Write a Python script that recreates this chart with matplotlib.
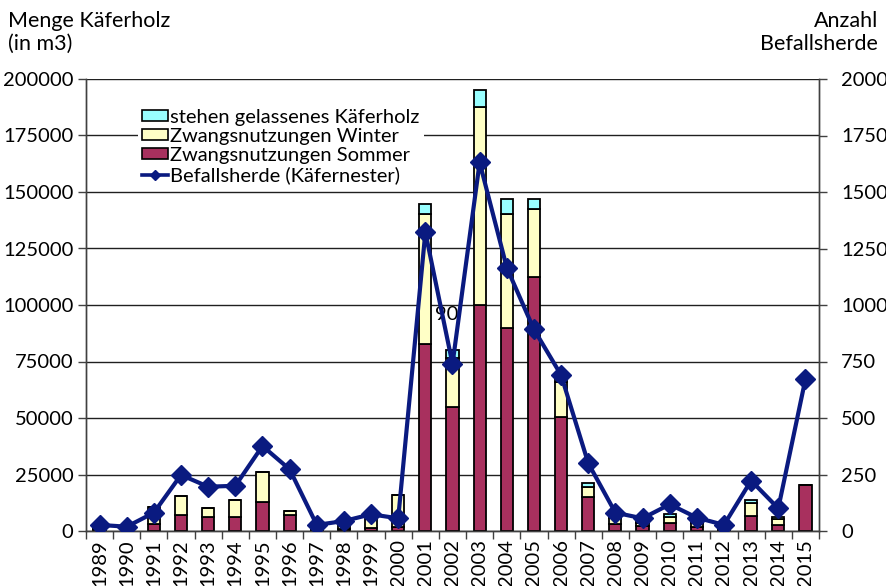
import matplotlib
matplotlib.use("Agg")
import matplotlib.pyplot as plt
from matplotlib.patches import Patch
from matplotlib.lines import Line2D
import numpy as np

plt.rcParams['font.family'] = ['Lato', 'DejaVu Sans']

years = [str(y) for y in range(1989, 2016)]
sommer = [1000, 0, 3000, 7000, 6300, 6300, 13000, 7000, 500, 1000, 1500, 1900,
          82700, 55000, 100000, 90000, 112500, 50600, 14900, 2900, 2200, 3700,
          1600, 500, 6600, 2600, 20500]
winter = [500, 0, 7700, 8600, 3700, 7400, 13200, 2000, 500, 2000, 4000, 14100,
          57600, 21400, 87500, 50100, 30100, 15400, 4700, 2700, 1500, 2600,
          1800, 500, 5600, 2600, 0]
stehen = [0, 0, 0, 0, 0, 0, 0, 0, 0, 0, 0, 0,
          4400, 3600, 7600, 6700, 4200, 3000, 1800, 1200, 900, 1100,
          700, 0, 1400, 1000, 0]
herde = [27, 19, 81, 248, 196, 200, 376, 273, 27, 44, 74, 56, 1322, 739, 1631,
         1165, 892, 690, 300, 81, 56, 118, 59, 27, 223, 100, 672]

c_sommer = '#A8305E'
c_winter = '#FFFFC6'
c_stehen = '#99FFFF'
c_line = '#0A1A80'

W, H = 887, 586
fig = plt.figure(figsize=(W / 100, H / 100), dpi=100)
ax = fig.add_axes([86 / W, 1 - 531 / H, (819 - 86) / W, (531 - 79) / H])
ax2 = ax.twinx()

x = np.arange(len(years))
bw = 0.45
s = np.array(sommer)
w = np.array(winter)
st = np.array(stehen)
ax.bar(x, s, bw, color=c_sommer, edgecolor='black', linewidth=1.3, zorder=3)
ax.bar(x, w, bw, bottom=s, color=c_winter, edgecolor='black', linewidth=1.3, zorder=3)
ax.bar(x, st, bw, bottom=s + w, color=c_stehen, edgecolor='black', linewidth=1.3, zorder=3)

ax2.plot(x, herde, color=c_line, linewidth=3.0, marker='D', markersize=10,
         markeredgecolor=c_line, markerfacecolor=c_line, zorder=5)

fs = 14.5
ax.set_xlim(-0.5, len(years) - 0.5)
ax.set_ylim(0, 200000)
ax2.set_ylim(0, 2000)
ax.set_yticks(np.arange(0, 200001, 25000))
ax2.set_yticks(np.arange(0, 2001, 250))
ax.yaxis.grid(True, color='#202020', linewidth=1.0, zorder=0)
ax.set_axisbelow(True)

ax.set_xticks(x)
ax.set_xticklabels(years, rotation=90, fontsize=fs)
ax.set_xticks(np.arange(-0.5, len(years), 1), minor=True)
ax.tick_params(axis='x', which='major', length=0, pad=6)
ax.tick_params(axis='x', which='minor', length=6, width=1, color='#404040')
ax.tick_params(axis='y', labelsize=fs, length=6, width=1, color='#404040', pad=3)
ax2.tick_params(axis='y', labelsize=fs, length=6, width=1, color='#404040', pad=10)

for a in (ax, ax2):
    a.spines['top'].set_visible(False)
    for sp in ('left', 'right', 'bottom'):
        a.spines[sp].set_color('#404040')
        a.spines[sp].set_linewidth(1.0)

ax.text(12.8, 95600, '90', fontsize=fs, ha='center', va='center', zorder=4)

fig.text(8 / W, 1 - 11 / H, 'Menge Käferholz\n(in m3)', fontsize=15.5,
         ha='left', va='top', linespacing=1.2)
fig.text(878 / W, 1 - 11 / H, 'Anzahl\nBefallsherde', fontsize=15.5,
         ha='right', va='top', linespacing=1.2, multialignment='right')

handles = [Patch(facecolor=c_stehen, edgecolor='black', linewidth=1.2),
           Patch(facecolor=c_winter, edgecolor='black', linewidth=1.2),
           Patch(facecolor=c_sommer, edgecolor='black', linewidth=1.2),
           Line2D([0], [0], color=c_line, linewidth=2.6, marker='D', markersize=5)]
labels = ['stehen gelassenes Käferholz', 'Zwangsnutzungen Winter',
          'Zwangsnutzungen Sommer', 'Befallsherde (Käfernester)']
leg = ax2.legend(handles, labels, loc='upper left',
                 bbox_to_anchor=(138 / W, 1 - 105 / H), bbox_transform=fig.transFigure,
                 fontsize=fs, frameon=True, framealpha=1, facecolor='white',
                 edgecolor='none', fancybox=False, handlelength=1.3, handleheight=0.45,
                 handletextpad=0.1, labelspacing=0.1, borderpad=0.2, borderaxespad=0)
leg.set_zorder(10)

fig.savefig('out.png', dpi=100)
